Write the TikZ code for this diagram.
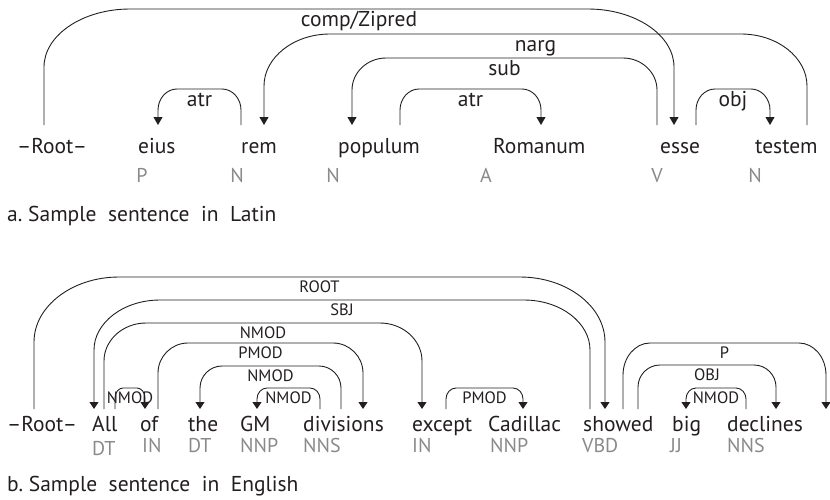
\documentclass[tikz,border=0pt]{standalone}
\usepackage{fontspec}
\setmainfont{PT Sans}
\usetikzlibrary{arrows.meta,calc}
\definecolor{ink}{HTML}{231F20}
\definecolor{tagc}{HTML}{8A8A8A}
\tikzset{
  word/.style={inner sep=0pt, anchor=base west, text=ink, font=\fontsize{21.5}{25}\selectfont},
  tagn/.style={inner sep=0pt, anchor=base, text=tagc, font=\fontsize{20}{23}\selectfont},
  tagw/.style={inner sep=0pt, anchor=base west, text=tagc, font=\fontsize{20}{23}\selectfont},
  laba/.style={inner sep=0pt, anchor=base, yshift=-17pt, text=ink, font=\fontsize{21.5}{25}\selectfont},
  labb/.style={inner sep=0pt, anchor=base, yshift=-15pt, text=ink, font=\fontsize{16.5}{19}\selectfont},
  edge/.style={draw=ink, line width=0.9pt},
  depR/.style={edge, -{Triangle[width=9pt,length=8pt]}},
  depL/.style={edge, {Triangle[width=9pt,length=8pt]}-},
  depRb/.style={edge, -{Triangle[width=9pt,length=7pt]}},
  depLb/.style={edge, {Triangle[width=9pt,length=7pt]}-}
}
\newcommand\deparc[8]{%
  \draw[#3] let \p1=(#1), \p2=(#2) in
    (#1) -- (\x1,#4+#6)
    .. controls (\x1,#4+0.45*#6) and (\x1+0.45*#5,#4) .. (\x1+#5,#4)
    -- node[#7]{#8} (\x2-#5,#4)
    .. controls (\x2-0.45*#5,#4) and (\x2,#4+0.45*#6) .. (\x2,#4+#6)
    -- (#2);
}
\begin{document}
\begin{tikzpicture}[x=1pt,y=-1pt]
\useasboundingbox (0,0) rectangle (830,499);
% ---------- part a ----------
\node[word] (aroot) at (17,153) {–Root–};
\node[word] (eius) at (138,153) {eius};
\node[word] (rem) at (241,153) {rem};
\node[word] (pop) at (338,153) {populum};
\node[word] (rom) at (493,153) {Romanum};
\node[word] (esse) at (660,153) {esse};
\node[word] (test) at (755,153) {testem};
\node[tagn] (t-eius) at (142,182) {P};
\node[tagn] (t-rem) at (237,182) {N};
\node[tagn] (t-pop) at (333,182) {N};
\node[tagn] (t-rom) at (486,182) {A};
\node[tagn] (t-esse) at (657,182) {V};
\node[tagn] (t-test) at (755,182) {N};
\coordinate (aroot-1) at (44,125);
\coordinate (eius-1) at (158,125);
\coordinate (rem-1) at (241,125);
\coordinate (rem-2) at (264,125);
\coordinate (pop-1) at (352,125);
\coordinate (pop-2) at (400,125);
\coordinate (rom-1) at (541,125);
\coordinate (esse-1) at (657,125);
\coordinate (esse-2) at (674,125);
\coordinate (esse-3) at (696,125);
\coordinate (test-1) at (770,125);
\coordinate (test-2) at (807,125);
\deparc{aroot-1}{esse-2}{depR}{9}{86}{58}{laba}{comp/Zipred}
\deparc{rem-2}{test-2}{depL}{34}{66}{52}{laba}{narg}
\deparc{pop-1}{esse-1}{depL}{58}{34}{32}{laba}{sub}
\deparc{eius-1}{rem-1}{depL}{89}{19}{21}{laba}{atr}
\deparc{pop-2}{rom-1}{depR}{89}{19}{21}{laba}{atr}
\deparc{esse-3}{test-1}{depR}{89}{19}{21}{laba}{obj}
\node[word] (capa) at (7,221) {a.\ Sample\ \ sentence\ \ in\ \ Latin};
% ---------- part b ----------
\node[word] (broot) at (7,431) {–Root–};
\node[word] (all) at (92,431) {All};
\node[word] (of) at (140,431) {of};
\node[word] (the) at (188,431) {the};
\node[word] (gm) at (240,431) {GM};
\node[word] (div) at (303,431) {divisions};
\node[word] (exc) at (412,431) {except};
\node[word] (cad) at (488,431) {Cadillac};
\node[word] (sh) at (583,431) {showed};
\node[word] (big) at (672,431) {big};
\node[word] (dec) at (727,431) {declines};
\node[tagw] (t-all) at (92,455) {DT};
\node[tagw] (t-of) at (142,452) {IN};
\node[tagw] (t-the) at (188,452) {DT};
\node[tagw] (t-gm) at (240,452) {NNP};
\node[tagw] (t-div) at (303,452) {NNS};
\node[tagw] (t-exc) at (412,452) {IN};
\node[tagw] (t-cad) at (490,452) {NNP};
\node[tagw] (t-sh) at (582,452) {VBD};
\node[tagw] (t-big) at (670,452) {JJ};
\node[tagw] (t-dec) at (727,452) {NNS};
\coordinate (broot-1) at (34,409);
\coordinate (all-1) at (94,409);
\coordinate (all-2) at (104,409);
\coordinate (all-3) at (115,409);
\coordinate (of-1) at (145,409);
\coordinate (of-2) at (158,409);
\coordinate (the-1) at (200,409);
\coordinate (gm-1) at (257,409);
\coordinate (div-1) at (320,409);
\coordinate (div-2) at (341,409);
\coordinate (div-3) at (363,409);
\coordinate (exc-1) at (422,409);
\coordinate (exc-2) at (446,409);
\coordinate (cad-1) at (523,409);
\coordinate (sh-1) at (590,409);
\coordinate (sh-2) at (605,409);
\coordinate (sh-3) at (623,409);
\coordinate (sh-4) at (638,409);
\coordinate (big-1) at (686,409);
\coordinate (dec-1) at (746,409);
\coordinate (dec-2) at (776,409);
\coordinate (pend) at (826,409);
\deparc{broot-1}{sh-2}{depRb}{277}{85}{65}{labb}{ROOT}
\deparc{all-1}{sh-1}{depLb}{300}{66}{50}{labb}{SBJ}
\deparc{all-2}{exc-1}{depRb}{323}{42}{38}{labb}{NMOD}
\deparc{of-2}{div-3}{depRb}{343}{30}{30}{labb}{PMOD}
\deparc{the-1}{div-2}{depLb}{366}{22}{22}{labb}{NMOD}
\deparc{gm-1}{div-1}{depLb}{388}{10}{11}{labb}{NMOD}
\deparc{all-3}{of-1}{depRb}{388}{8}{10}{labb}{NMOD}
\deparc{exc-2}{cad-1}{depRb}{388}{10}{11}{labb}{PMOD}
\deparc{sh-3}{pend}{depRb}{343}{27}{32}{labb}{P}
\deparc{sh-4}{dec-2}{depRb}{365}{22}{22}{labb}{OBJ}
\deparc{big-1}{dec-1}{depLb}{388}{10}{11}{labb}{NMOD}
\node[word] (capb) at (7,491) {b.\ Sample\ \ sentence\ \ in\ \ English};
\end{tikzpicture}
\end{document}
